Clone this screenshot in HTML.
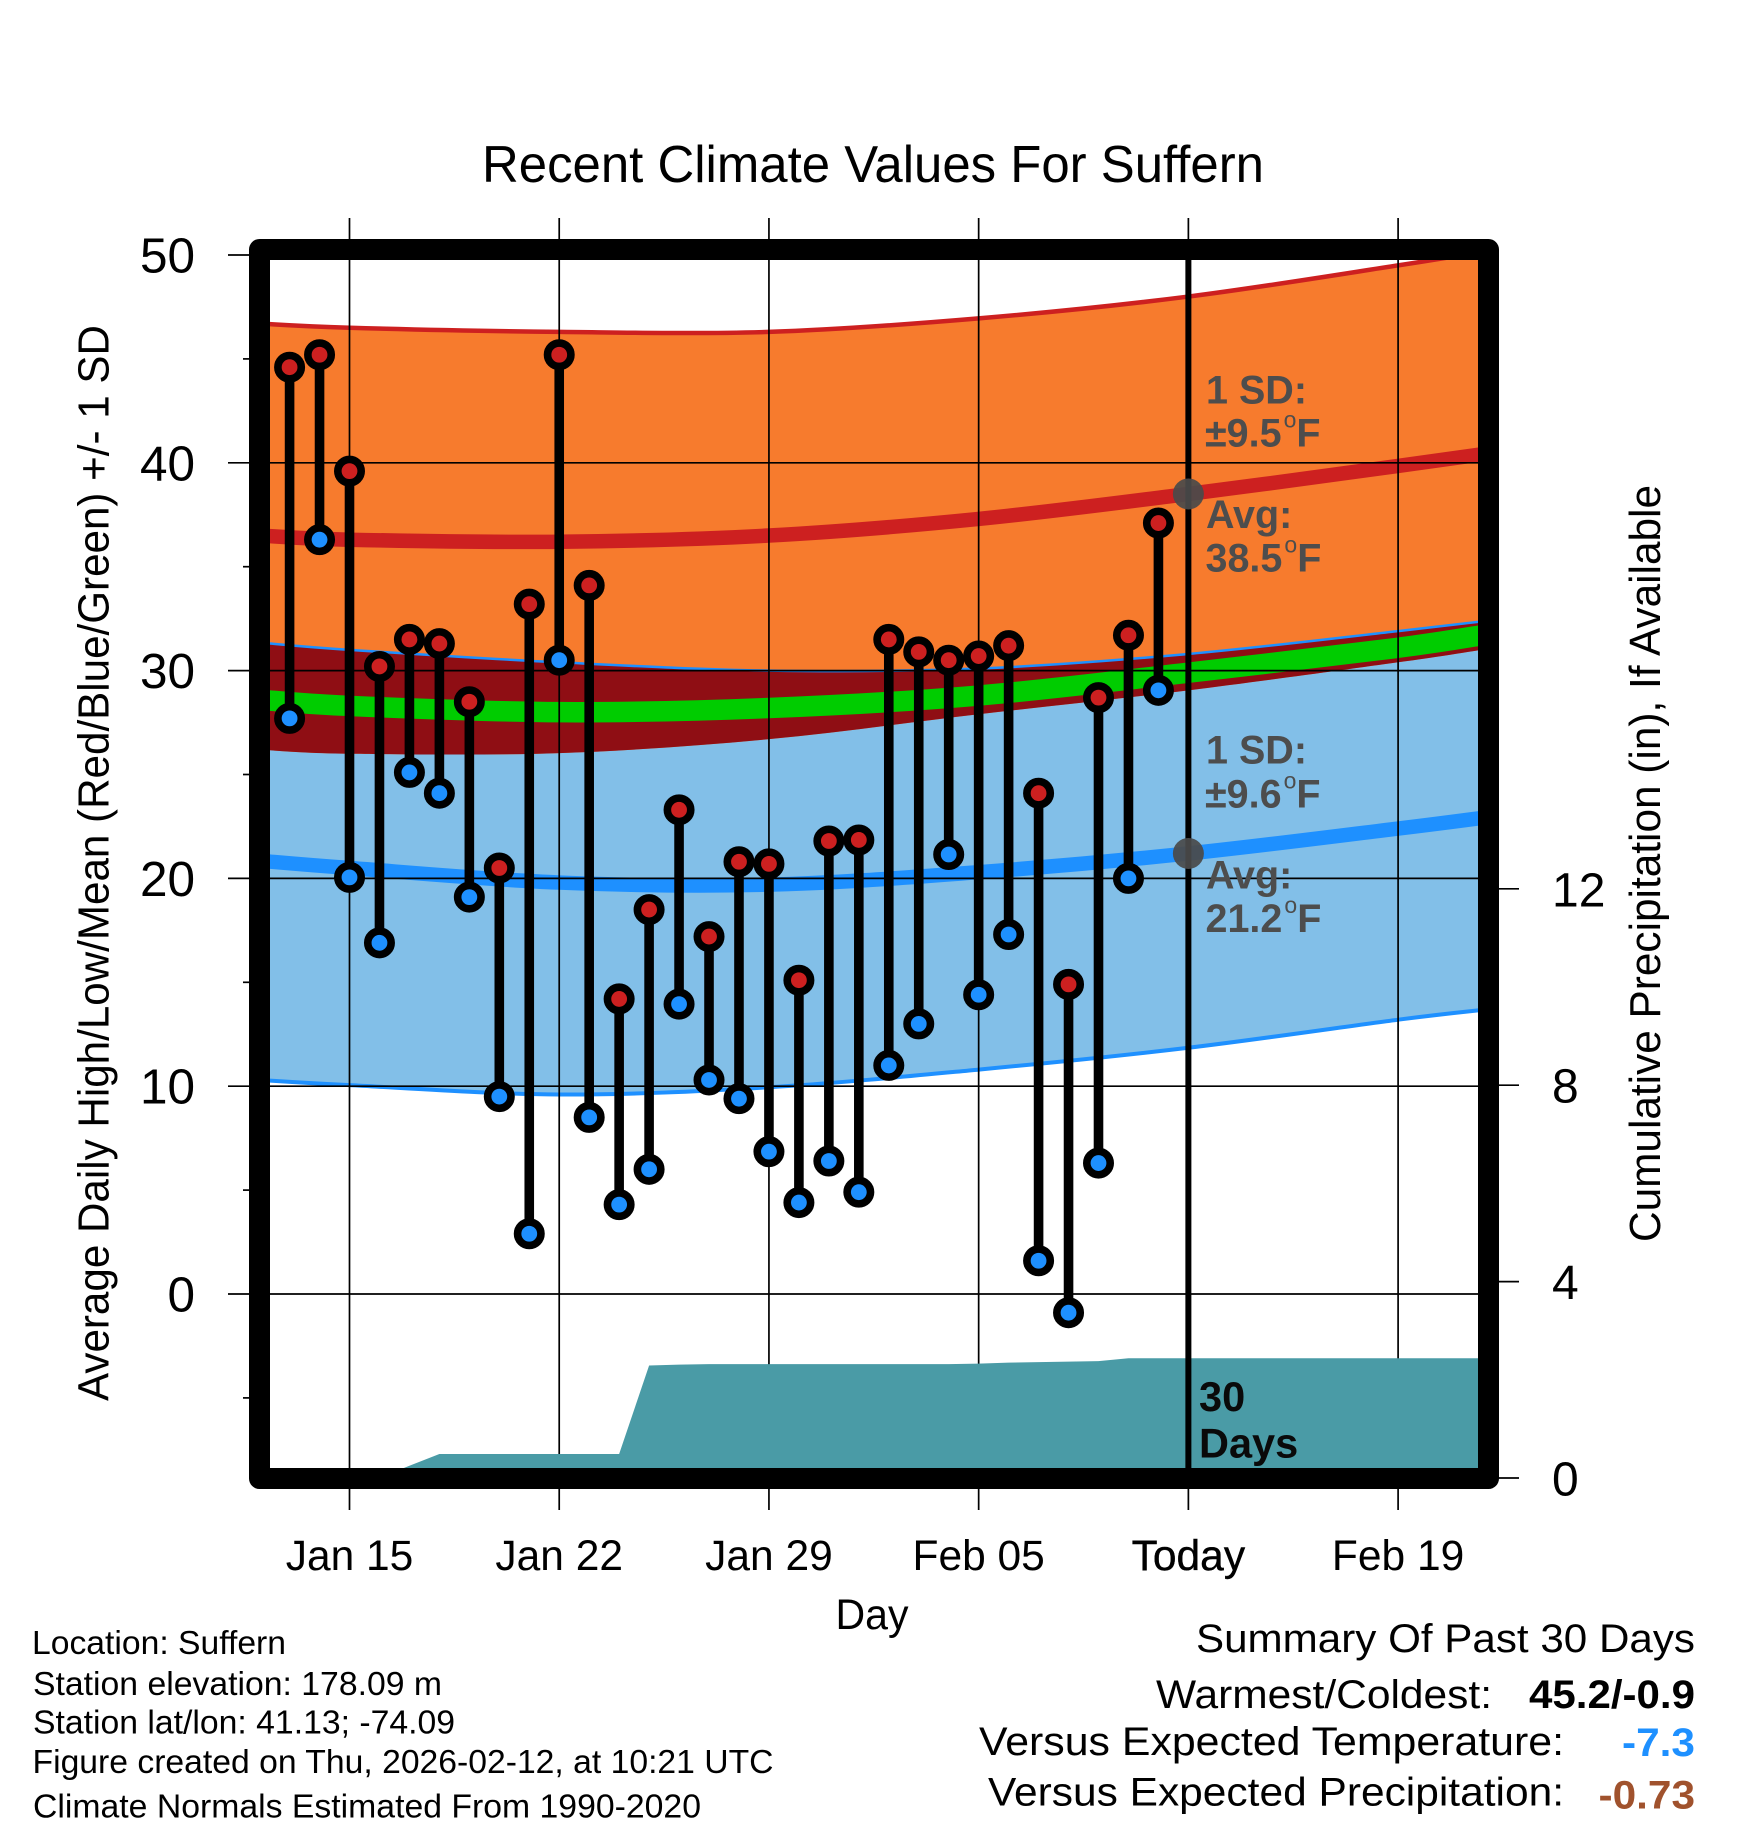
<!DOCTYPE html>
<html lang="en">
<head>
<meta charset="utf-8">
<title>Recent Climate Values For Suffern</title>
<style>
html,body{margin:0;padding:0;background:#fff;}
svg{display:block;font-family:"Liberation Sans",sans-serif;}
</style>
</head>
<body>
<svg id="chart" xmlns="http://www.w3.org/2000/svg" width="1748" height="1828" viewBox="0 0 1748 1828">
  <defs><clipPath id="plot-clip"><rect x="270" y="260" width="1208" height="1208"/></clipPath></defs>
  <rect x="0" y="0" width="1748" height="1828" fill="#fff"/>
  <g id="layer-bands" clip-path="url(#plot-clip)"></g>
  <g id="layer-grid"></g>
  <g id="layer-precip" clip-path="url(#plot-clip)"></g>
  <rect x="259.5" y="249.5" width="1229" height="1229" fill="none" stroke="#000" stroke-width="21" stroke-linejoin="round"/>
  <g id="layer-today"></g>
  <g id="layer-points"></g>
  <g id="layer-labels"></g>

  <text x="873" y="182" font-size="52" text-anchor="middle" textLength="782" lengthAdjust="spacingAndGlyphs">Recent Climate Values For Suffern</text>
  <text transform="translate(108.5,863) rotate(-90)" font-size="44" text-anchor="middle" textLength="1076" lengthAdjust="spacingAndGlyphs">Average Daily High/Low/Mean (Red/Blue/Green) +/- 1 SD</text>
  <text transform="translate(1660,863.5) rotate(-90)" font-size="44" text-anchor="middle" textLength="757" lengthAdjust="spacingAndGlyphs">Cumulative Precipitation (in), If Available</text>
  <text x="872" y="1629" font-size="43" text-anchor="middle" textLength="73" lengthAdjust="spacingAndGlyphs">Day</text>

  <g font-weight="bold" font-size="39.5" fill="#4d4d4d">
    <text x="1206" y="403.3">1 SD:</text>
    <text x="1205" y="446.7">±9.5<tspan dx="2" dy="-19" font-size="23" font-weight="normal">o</tspan><tspan dy="19">F</tspan></text>
    <text x="1206" y="528">Avg:</text>
    <text x="1205.5" y="571.7">38.5<tspan dx="2" dy="-19" font-size="23" font-weight="normal">o</tspan><tspan dy="19">F</tspan></text>
  </g>
  <g font-weight="bold" font-size="39.5" fill="#4d4d4d">
    <text x="1206" y="763.3">1 SD:</text>
    <text x="1205" y="807.3">±9.6<tspan dx="2" dy="-19" font-size="23" font-weight="normal">o</tspan><tspan dy="19">F</tspan></text>
    <text x="1206" y="888.3">Avg:</text>
    <text x="1205.5" y="932">21.2<tspan dx="2" dy="-19" font-size="23" font-weight="normal">o</tspan><tspan dy="19">F</tspan></text>
  </g>
  <text x="1199" y="1411" font-size="41.5" font-weight="bold" fill="#0a0a0a">30</text>
  <text x="1199" y="1457.5" font-size="41.5" font-weight="bold" fill="#0a0a0a">Days</text>

  <g font-size="33">
    <text x="32" y="1654" textLength="254" lengthAdjust="spacingAndGlyphs">Location: Suffern</text>
    <text x="33" y="1695" textLength="409" lengthAdjust="spacingAndGlyphs">Station elevation: 178.09 m</text>
    <text x="33" y="1733.5" textLength="422" lengthAdjust="spacingAndGlyphs">Station lat/lon: 41.13; -74.09</text>
    <text x="32.5" y="1773" textLength="741" lengthAdjust="spacingAndGlyphs">Figure created on Thu, 2026-02-12, at 10:21 UTC</text>
    <text x="33" y="1817.4" textLength="668" lengthAdjust="spacingAndGlyphs">Climate Normals Estimated From 1990-2020</text>
  </g>
  <g font-size="40">
    <text x="1196" y="1652" textLength="499" lengthAdjust="spacingAndGlyphs">Summary Of Past 30 Days</text>
    <text x="1156" y="1708" textLength="336" lengthAdjust="spacingAndGlyphs">Warmest/Coldest:</text>
    <text x="1529" y="1708" font-weight="bold" textLength="166" lengthAdjust="spacingAndGlyphs">45.2/-0.9</text>
    <text x="979" y="1755" textLength="585" lengthAdjust="spacingAndGlyphs">Versus Expected Temperature:</text>
    <text x="1622" y="1756" font-weight="bold" fill="#1e90ff" textLength="73" lengthAdjust="spacingAndGlyphs">-7.3</text>
    <text x="988" y="1805.5" textLength="576" lengthAdjust="spacingAndGlyphs">Versus Expected Precipitation:</text>
    <text x="1598.5" y="1808.7" font-weight="bold" fill="#a0522d" textLength="96.5" lengthAdjust="spacingAndGlyphs">-0.73</text>
  </g>
</svg>
<script>
// ---- chart data ----
var observedDays = ['Jan 13','Jan 14','Jan 15','Jan 16','Jan 17','Jan 18','Jan 19','Jan 20','Jan 21','Jan 22','Jan 23','Jan 24','Jan 25','Jan 26','Jan 27','Jan 28','Jan 29','Jan 30','Jan 31','Feb 01','Feb 02','Feb 03','Feb 04','Feb 05','Feb 06','Feb 07','Feb 08','Feb 09','Feb 10','Feb 11'];
var dailyHigh = [44.6,45.2,39.6,30.2,31.5,31.3,28.5,20.5,33.2,45.2,34.1,14.2,18.5,23.3,17.2,20.8,20.7,15.1,21.8,21.85,31.5,30.9,30.5,30.7,31.2,24.1,14.9,28.7,31.7,37.1];
var dailyLow = [27.7,36.3,20.05,16.9,25.1,24.1,19.1,9.5,2.9,30.5,8.5,4.3,6.0,13.95,10.3,9.4,6.85,4.4,6.4,4.9,11.0,13.0,21.15,14.4,17.3,1.6,-0.9,6.3,20.0,29.05];
var cumulativePrecip = [0,0,0,0,0.25,0.49,0.49,0.49,0.49,0.49,0.49,0.49,2.29,2.31,2.32,2.32,2.32,2.32,2.32,2.32,2.32,2.32,2.32,2.33,2.35,2.36,2.37,2.38,2.44,2.44];
// climate normals, sampled on these days relative to Jan 15
var normalDays = [-3,0,7,14,21,28,35,38];
var highPlusSD = [46.7,46.5,46.3,46.3,46.95,48.0,49.5,50.2];
var highMean = [36.5,36.3,36.2,36.5,37.3,38.5,39.85,40.45];
var highMinusSD = [26.2,26.0,26.03,26.7,27.9,29.05,30.4,31.05];
var overallMean = [28.6,28.3,28.0,28.2,28.8,29.9,31.1,31.75];
var lowPlusSD = [31.35,31.0,30.4,30.0,30.1,30.8,31.9,32.4];
var lowMean = [20.85,20.5,19.8,19.7,20.3,21.2,22.4,22.95];
var lowMinusSD = [10.3,10.05,9.6,9.95,10.8,11.85,13.2,13.7];
var xTickDays = [0,7,14,21,28,35];
var xTickLabels = ['Jan 15','Jan 22','Jan 29','Feb 05','Today','Feb 19'];
var yTickValues = [0,10,20,30,40,50];
var yTickLabels = ['0','10','20','30','40','50'];
var yMinorValues = [-5,5,15,25,35,45];
var precipTickValues = [0,4,8,12];
var precipTickLabels = ['0','4','8','12'];
var todayOffset = 28;
var todayHighMean = 38.5;
var todayLowMean = 21.2;

// ---- axis functions ----
function xScale(day){ return 349.5 + 29.96 * day; }
function yScale(v){ return 1294 - 20.78 * v; }
function precipScale(v){ return 1478 - 49.1 * v; }

var NS = 'http://www.w3.org/2000/svg';
var layerBands = document.getElementById('layer-bands');
var layerGrid = document.getElementById('layer-grid');
var layerPrecip = document.getElementById('layer-precip');
var layerToday = document.getElementById('layer-today');
var layerPoints = document.getElementById('layer-points');
var layerLabels = document.getElementById('layer-labels');

function make(tag, parent, attrs){
  var el = document.createElementNS(NS, tag);
  for (var k in attrs){ el.setAttribute(k, attrs[k]); }
  parent.appendChild(el);
  return el;
}
function curvePoints(values){
  return values.map(function(v, i){ return [xScale(normalDays[i]), yScale(v)]; });
}
function segmentPath(pts){
  var d = '';
  for (var i = 0; i < pts.length - 1; i++){
    var p0 = pts[Math.max(i - 1, 0)], p1 = pts[i], p2 = pts[i + 1], p3 = pts[Math.min(i + 2, pts.length - 1)];
    var c1x = p1[0] + (p2[0] - p0[0]) / 6, c1y = p1[1] + (p2[1] - p0[1]) / 6;
    var c2x = p2[0] - (p3[0] - p1[0]) / 6, c2y = p2[1] - (p3[1] - p1[1]) / 6;
    d += ' C' + c1x.toFixed(2) + ' ' + c1y.toFixed(2) + ' ' + c2x.toFixed(2) + ' ' + c2y.toFixed(2) + ' ' + p2[0].toFixed(2) + ' ' + p2[1].toFixed(2);
  }
  return d;
}
function linePath(values){
  var pts = curvePoints(values);
  return 'M' + pts[0][0].toFixed(2) + ' ' + pts[0][1].toFixed(2) + segmentPath(pts);
}
function bandPath(upper, lower){
  var up = curvePoints(upper);
  var lo = curvePoints(lower).reverse();
  return 'M' + up[0][0].toFixed(2) + ' ' + up[0][1].toFixed(2) + segmentPath(up) +
         ' L' + lo[0][0].toFixed(2) + ' ' + lo[0][1].toFixed(2) + segmentPath(lo) + ' Z';
}

// ---- bands ----
var lowBand = make('path', layerBands, {d: bandPath(lowPlusSD, lowMinusSD), fill: '#82bfe8'});


var highBand = make('path', layerBands, {d: bandPath(highPlusSD, highMinusSD), fill: '#f77b2d'});


var overlapBand = make('path', layerBands, {d: bandPath(lowPlusSD, highMinusSD), fill: '#8f0e14'});


var lowerLine = make('path', layerBands, {d: linePath(lowMinusSD), fill: 'none', stroke: '#1e90ff', 'stroke-width': 4});


var lowUpperLine = make('path', layerBands, {d: linePath(lowPlusSD), fill: 'none', stroke: '#1e90ff', 'stroke-width': 2.5});


var upperLine = make('path', layerBands, {d: linePath(highPlusSD), fill: 'none', stroke: '#cd2020', 'stroke-width': 4.5});


var highMeanLine = make('path', layerBands, {d: linePath(highMean), fill: 'none', stroke: '#cd2020', 'stroke-width': 14.5});


var lowMeanLine = make('path', layerBands, {d: linePath(lowMean), fill: 'none', stroke: '#1e90ff', 'stroke-width': 14.5});


var meanLine = make('path', layerBands, {d: linePath(overallMean), fill: 'none', stroke: '#00cc00', 'stroke-width': 20.5});



// ---- grid and ticks ----
xTickDays.forEach(function(day, i){
  var gx = make('line', layerGrid, {x1: xScale(day), x2: xScale(day), y1: 218, y2: 1510, stroke: '#000', 'stroke-width': 1.7});
  
  
  var isToday = day === todayOffset;
  var tx = make('text', layerLabels, {x: xScale(day), y: 1570, 'font-size': 42.5, 'text-anchor': 'middle'});
  
  
  if (isToday){ tx.setAttribute('stroke', '#000'); tx.setAttribute('stroke-width', '0.4'); }
  tx.textContent = xTickLabels[i];
});
yTickValues.forEach(function(v, i){
  var gy = make('line', layerGrid, {x1: 228, x2: 1478, y1: yScale(v), y2: yScale(v), stroke: '#000', 'stroke-width': 1.7});
  
  
  var ty = make('text', layerLabels, {x: 195, y: yScale(v) + 17.5, 'font-size': 49.5, 'text-anchor': 'end'});
  
  
  ty.textContent = yTickLabels[i];
});
yMinorValues.forEach(function(v){
  var minor = make('line', layerGrid, {x1: 243, x2: 250, y1: yScale(v), y2: yScale(v), stroke: '#000', 'stroke-width': 1.7});
  
  
});
precipTickValues.forEach(function(v, i){
  var pt = make('line', layerGrid, {x1: 1495, x2: 1519, y1: precipScale(v), y2: precipScale(v), stroke: '#000', 'stroke-width': 1.7});
  
  
  var pl = make('text', layerLabels, {x: 1552, y: precipScale(v) + 17.5, 'font-size': 48});
  
  
  pl.textContent = precipTickLabels[i];
});

// ---- precipitation ----
var precipD = 'M' + xScale(-2) + ' ' + precipScale(0);
cumulativePrecip.forEach(function(v, i){
  precipD += ' L' + xScale(i - 2).toFixed(2) + ' ' + precipScale(v).toFixed(2);
});
var precipEnd = normalDays[normalDays.length - 1];
precipD += ' L' + xScale(precipEnd).toFixed(2) + ' ' + precipScale(cumulativePrecip[cumulativePrecip.length - 1]).toFixed(2);
precipD += ' L' + xScale(precipEnd).toFixed(2) + ' ' + precipScale(0) + ' Z';
var precipArea = make('path', layerPrecip, {d: precipD, fill: '#4a9ba6'});



// ---- today marker ----
var todayLine = make('line', layerToday, {x1: xScale(todayOffset), x2: xScale(todayOffset), y1: 260, y2: 1468, stroke: '#000', 'stroke-width': 6});


var dotHigh = make('circle', layerToday, {cx: xScale(todayOffset), cy: yScale(todayHighMean), r: 15.5, fill: 'rgba(74,74,74,0.93)'});


var dotLow = make('circle', layerToday, {cx: xScale(todayOffset), cy: yScale(todayLowMean), r: 15.5, fill: 'rgba(74,74,74,0.93)'});



// ---- daily points ----
observedDays.forEach(function(label, i){
  var x = xScale(i - 2);
  var stem = make('line', layerPoints, {x1: x, x2: x, y1: yScale(dailyHigh[i]), y2: yScale(dailyLow[i]), stroke: '#000', 'stroke-width': 9.6});
  
  
  var low = make('circle', layerPoints, {cx: x, cy: yScale(dailyLow[i]), r: 11.7, fill: '#1e90ff', stroke: '#000', 'stroke-width': 7.6});
  
  
  var high = make('circle', layerPoints, {cx: x, cy: yScale(dailyHigh[i]), r: 11.7, fill: '#cd2020', stroke: '#000', 'stroke-width': 7.6});
  
  
});
</script>
</body>
</html>
